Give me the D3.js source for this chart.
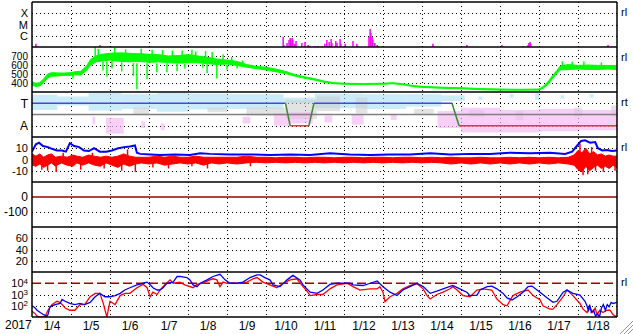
<!DOCTYPE html>
<meta charset="utf-8">
<title>Space weather summary 2017/1</title>
<style>
  body { margin: 0; background: #fff; }
  svg { display: block; font-family: "Liberation Sans", Arial, sans-serif; }
  .frame { fill: none; stroke: #000; stroke-width: 1.5px; }
  .grid { fill: none; stroke: #000; stroke-width: 1px; stroke-dasharray: 1,3; }
  .side { font-size: 11px; fill: #000; }
</style>
<svg width="633" height="334"></svg>
<script src="https://cdn.jsdelivr.net/npm/d3@7"></script>
<script>
  // ---- data (days of January 2017) ----
  var dateLabels = ["1/4","1/5","1/6","1/7","1/8","1/9","1/10","1/11","1/12","1/13","1/14","1/15","1/16","1/17","1/18"];

  // X-ray flux bars [day, W/m2]
  var xrayBars = [[4.10,1.9e-7],[5.10,1.2e-7],[5.74,1.5e-7],[5.77,1.2e-7],[10.44,7.7e-7],[10.46,1.5e-7],
    [10.54,2.3e-7],[10.59,4.2e-7],[10.62,6.3e-7],[10.64,3.4e-7],[10.67,6.3e-7],[10.69,4.2e-7],[10.74,1.9e-7],
    [10.77,3.4e-7],[10.92,2.3e-7],[11.00,2.8e-7],[11.08,1.5e-7],[11.13,1.2e-7],[11.26,1.2e-7],[11.33,1.2e-7],
    [11.44,1.2e-7],[11.51,1.9e-7],[11.56,4.2e-7],[11.62,2.8e-7],[11.67,5.1e-7],[11.69,2.3e-7],[11.79,3.4e-7],
    [11.82,2.3e-7],[11.90,5.1e-7],[11.92,1.9e-7],[12.03,1.9e-7],[12.23,3.4e-7],[12.33,1.9e-7],[12.36,1.2e-7],
    [12.64,7.7e-7],[12.67,4.0e-6],[12.69,1.75e-6],[12.72,7.7e-7],[12.74,4.2e-7],[12.79,2.3e-7],[12.85,1.5e-7],
    [12.87,1.2e-7],[14.28,1.9e-7],[15.15,1.5e-7],[16.05,1.5e-7],[16.59,1.2e-7],[16.72,1.5e-7],[16.74,2.3e-7],
    [16.77,2.8e-7],[16.79,1.9e-7],[18.77,1.5e-7]];

  // solar wind speed envelope [day, low, high] (km/s)
  var windBand = [[4.00,375,415],[4.10,362,395],[4.20,368,405],[4.30,405,445],[4.40,455,500],[4.50,475,515],
    [4.65,478,512],[4.80,485,510],[5.00,485,515],[5.10,492,525],[5.25,488,530],[5.40,540,590],[5.50,600,660],
    [5.65,635,705],[5.80,645,720],[6.00,655,730],[6.25,640,735],[6.50,635,730],[6.75,640,725],[7.00,630,720],
    [7.25,635,715],[7.50,625,700],[7.75,620,705],[8.00,625,715],[8.25,625,700],[8.50,615,685],[8.75,605,665],
    [9.00,610,655],[9.25,595,640],[9.50,575,605],[9.75,560,585],[10.00,545,575],[10.25,525,555],[10.50,505,528],
    [10.75,475,493],[11.00,452,468],[11.25,432,448],[11.50,406,420],[11.75,392,404],[12.00,386,398],
    [12.50,382,394],[13.00,386,398],[13.25,391,403],[13.50,381,393],[13.75,361,373],[14.00,351,363],
    [14.50,341,353],[15.00,336,348],[15.50,326,338],[16.00,321,333],[16.50,319,330],[17.00,321,333],
    [17.10,340,358],[17.25,392,425],[17.35,452,485],[17.45,502,535],[17.55,545,590],[17.75,550,605],
    [18.00,555,595],[18.25,550,600],[18.50,550,595],[18.75,555,595],[19.00,550,595]];
  var windSpikes = [[5.05,450,500],[5.62,650,800],[5.70,700,780],[5.82,540,640],[5.92,470,640],[6.05,560,650],
    [6.12,700,790],[6.30,530,630],[6.40,700,775],[6.60,480,620],[6.69,330,620],[6.80,700,780],[6.95,445,620],
    [7.08,700,770],[7.20,520,620],[7.35,700,765],[7.46,520,620],[7.60,690,760],[7.72,530,610],[7.85,690,760],
    [7.92,560,610],[8.10,700,770],[8.20,690,750],[8.38,570,610],[8.45,680,755],[8.49,510,610],[8.62,670,745],
    [8.74,450,600],[8.90,640,720],[9.00,550,600],[9.12,630,690],[9.26,560,600],[9.40,600,650],[17.60,580,640],
    [17.85,585,635],[18.15,585,640],[18.60,580,630]];

  // T / A panel: speckle blocks [day0, day1, low, high] on a 0..4 scale (T = 3, A = 1)
  var skyCells = [[4.00,4.65,2.4,3.75],[4.65,5.45,2.8,3.6],[5.45,6.30,2.35,3.9],[6.30,7.20,2.5,3.8],
    [7.20,8.00,2.25,3.9],[8.00,9.00,2.45,3.85],[9.00,10.45,2.5,3.8],[10.45,11.25,3.0,3.5],[11.25,12.50,2.55,3.85],
    [12.50,13.60,2.5,3.8],[13.60,14.50,2.7,3.8],[14.50,15.10,3.2,3.7],[15.45,15.55,3.3,3.6],[16.25,16.35,3.5,3.8],
    [16.90,17.00,3.3,3.9],[17.55,17.65,3.4,3.7],[18.30,18.40,3.5,3.8]];
  var grayCells = [[6.6,7.0,2.0,2.6],[8.5,9.0,2.2,2.6],[9.5,10.5,1.9,2.6],[10.5,11.3,1.6,3.3],[11.3,11.9,2.3,3.6],
    [12.3,12.6,2.1,3.5],[13.8,14.3,2.0,2.5],[15.2,15.6,1.8,2.4],[16.4,16.6,1.5,2.3],[17.9,18.1,1.8,2.6],
    [18.85,19.0,1.8,2.8]];
  var pinkCells = [[5.55,5.62,1.1,1.8],[5.90,6.35,0.3,1.7],[6.80,6.90,0.8,1.4],[7.30,7.40,0.6,1.2],
    [9.40,9.60,1.2,1.8],[10.20,10.60,1.0,2.1],[10.60,11.20,1.2,2.2],[11.50,11.70,1.3,1.9],[12.20,12.50,1.1,2.0],
    [13.20,13.35,1.5,2.0],[14.40,15.00,0.8,2.3],[15.00,16.00,0.4,2.6],[16.00,17.00,0.4,2.4],[17.00,18.00,0.5,2.5],
    [18.00,19.00,0.6,2.4]];
  var stateDays = [4.00, 10.50, 10.62, 11.10, 11.23, 14.77, 14.95, 19.00];
  var stateLevels = [3, 3, 1, 1, 3, 3, 1, 1];

  // IMF: total (blue) [day, nT]; Bz envelope (red) [day, low, high]
  var btLine = [[4.00,7],[4.10,13.5],[4.18,15],[4.28,12],[4.41,11],[4.51,9.5],[4.64,8],[4.77,8],[4.87,7],
    [4.97,14.5],[5.08,12],[5.21,11],[5.33,8],[5.46,7.5],[5.59,10],[5.74,7],[5.90,7],[6.05,8],[6.21,10],
    [6.36,11],[6.51,11.5],[6.64,12.5],[6.69,6],[6.77,5],[7.03,4.5],[7.28,4],[7.67,4.5],[8.05,4],[8.31,5.5],
    [8.56,5],[9.08,4.5],[9.59,4.5],[10.10,4],[10.62,4.5],[11.13,4],[11.64,5.5],[12.15,4.5],[12.67,4],
    [13.18,4.5],[13.69,4.5],[14.21,5.5],[14.72,4.5],[15.23,5],[15.74,5],[16.26,6],[16.77,5.5],[17.28,6],
    [17.67,5],[17.85,7],[17.97,12],[18.08,16.5],[18.18,17],[18.31,15],[18.44,15.5],[18.51,10],[18.62,8],
    [18.74,8.5],[18.87,7.5],[19.00,8]];
  var bzBand = [[4.00,-5,5],[4.10,-6,3],[4.20,-4,5],[4.30,-7,2],[4.40,-5,4],[4.50,-3,5],[4.60,-6,2],[4.75,-3,3],
    [4.90,-5,2],[5.05,-6,4],[5.15,-3,3],[5.30,-5,2],[5.45,-3,4],[5.60,-5,3],[5.75,-6,2],[5.90,-3,3],[6.05,-5,2],
    [6.20,-7,3],[6.35,-4,5],[6.50,-6,3],[6.65,-4,2],[6.80,-3,2],[7.00,-4,2],[7.20,-3,3],[7.40,-5,2],[7.60,-4,3],
    [7.80,-3,2],[8.00,-4,2],[8.20,-3,3],[8.40,-5,2],[8.60,-3,2],[8.80,-4,2],[9.00,-3,2],[9.25,-4,2],[9.50,-3,3],
    [9.75,-2.5,2],[10.00,-3,2],[10.25,-2.5,1.5],[10.50,-3,2],[10.75,-2.5,2],[11.00,-3,1.5],[11.25,-2.5,2],
    [11.50,-3,2],[11.75,-2.5,1.5],[12.00,-3,2],[12.25,-2.5,2],[12.50,-3,1.5],[12.75,-2.5,2],[13.00,-3,2],
    [13.25,-2.5,1.5],[13.50,-3,2],[13.75,-2.5,2],[14.00,-3,1.5],[14.25,-2.5,2],[14.50,-3,1.5],[14.75,-4,2],
    [15.00,-3,1.5],[15.25,-4,1.5],[15.50,-3,2],[15.75,-4,1.5],[16.00,-3,1.5],[16.25,-4,2],[16.50,-3,1.5],
    [16.75,-4,2],[17.00,-3,1.5],[17.25,-4,2],[17.50,-3,1.5],[17.75,-4,2],[17.90,-5,4],[18.00,-9,8],
    [18.10,-11,6],[18.20,-6,10],[18.30,-10,5],[18.40,-7,7],[18.50,-5,4],[18.60,-8,5],[18.70,-6,3],[18.80,-8,4],
    [18.90,-5,3],[19.00,-7,3]];
  var bzSpikes = [[4.25,-9,0],[4.40,-10,0],[4.62,-11,0],[4.80,0,6],[5.25,-9,0],[5.55,0,6],[5.85,-8,0],
    [6.30,-10,0],[6.45,0,9],[6.65,-11,0],[7.10,-7,0],[7.50,-8,0],[8.10,-6,0],[8.50,-8,0],[9.60,-6,0],
    [18.05,0,14],[18.13,-14,0],[18.25,-13,0],[18.35,0,11],[18.45,-10,0],[18.65,-11,0],[18.95,-10,0]];

  // electron flux (blue) and proton-ish flux (red), log scale
  var fluxBlue = [[4.00,100],[4.08,63],[4.13,40],[4.21,25],[4.30,16],[4.38,12],[4.41,16],[4.46,80],[4.59,126],
    [4.72,160],[4.77,370],[4.85,250],[4.97,160],[5.10,126],[5.23,160],[5.35,126],[5.49,200],[5.62,630],
    [5.74,1260],[5.87,630],[6.00,630],[6.13,800],[6.26,1260],[6.38,2500],[6.51,4000],[6.69,7100],[6.85,10000],
    [6.95,12600],[7.05,6300],[7.10,4000],[7.21,2500],[7.28,2500],[7.36,4000],[7.46,10000],[7.62,12600],
    [7.72,40000],[7.79,40000],[7.97,32000],[8.05,20000],[8.13,7100],[8.23,5000],[8.31,10000],[8.49,20000],
    [8.64,40000],[8.82,63000],[8.95,20000],[9.08,10000],[9.26,10000],[9.41,12600],[9.59,32000],[9.77,56000],
    [9.85,56000],[9.97,32000],[10.10,20000],[10.18,7100],[10.36,5000],[10.54,20000],[10.69,50000],
    [10.87,20000],[10.95,7100],[11.13,1600],[11.31,1260],[11.46,2500],[11.64,7900],[11.82,10000],
    [12.15,10000],[12.23,7100],[12.49,6300],[12.67,10000],[12.85,16000],[13.00,5000],[13.18,1600],
    [13.36,800],[13.51,2500],[13.69,5000],[13.87,10000],[14.03,5000],[14.21,1260],[14.38,2000],[14.54,3200],
    [14.79,6300],[14.97,3200],[15.15,1600],[15.23,800],[15.41,890],[15.49,2500],[15.67,5000],[15.79,5600],
    [15.92,3200],[16.08,1260],[16.18,500],[16.31,320],[16.44,630],[16.59,1600],[16.72,5000],[16.82,5600],
    [16.95,2500],[17.10,1000],[17.21,500],[17.36,200],[17.46,250],[17.62,1600],[17.72,2500],[17.87,1260],
    [18.05,890],[18.18,250],[18.23,100],[18.26,40],[18.30,126],[18.34,25],[18.40,40],[18.45,12],[18.50,20],
    [18.55,10],[18.60,63],[18.65,126],[18.70,40],[18.75,126],[18.80,80],[18.85,200],[18.90,160],[19.00,200]];
  var fluxRed = [[4.00,32],[4.08,20],[4.13,12],[4.21,10],[4.33,10],[4.41,40],[4.51,126],[4.64,250],[4.72,200],
    [4.85,63],[4.97,40],[5.10,40],[5.23,126],[5.35,126],[5.49,630],[5.62,1260],[5.74,1260],[5.82,200],
    [5.92,10],[6.00,250],[6.13,126],[6.26,800],[6.38,1260],[6.51,1260],[6.69,4000],[6.85,7900],[6.95,4000],
    [7.03,630],[7.10,1600],[7.21,1000],[7.28,2500],[7.36,5000],[7.54,20000],[7.62,10000],[7.79,12600],
    [7.92,7100],[8.13,4000],[8.23,7900],[8.38,10000],[8.56,20000],[8.64,25000],[8.74,20000],[8.82,5000],
    [8.90,12600],[9.00,10000],[9.26,10000],[9.51,12600],[9.67,25000],[9.77,32000],[9.92,12600],[10.10,7100],
    [10.28,4000],[10.44,10000],[10.62,20000],[10.79,25000],[10.95,5000],[11.05,2000],[11.13,800],[11.31,1000],
    [11.46,1000],[11.64,3200],[11.82,7100],[12.08,10000],[12.23,5000],[12.41,2500],[12.67,3200],[12.85,3200],
    [12.92,5000],[13.00,1600],[13.05,230],[13.18,630],[13.36,1260],[13.51,3200],[13.69,6300],[13.87,8900],
    [14.03,3200],[14.13,800],[14.21,400],[14.38,1000],[14.54,1600],[14.72,3200],[14.79,5000],[14.90,2500],
    [15.05,800],[15.23,630],[15.41,2500],[15.56,3200],[15.79,2500],[15.92,400],[16.08,126],[16.18,100],
    [16.33,800],[16.51,1600],[16.72,2500],[16.85,800],[17.03,320],[17.10,100],[17.28,50],[17.36,50],
    [17.46,126],[17.62,630],[17.72,2500],[17.87,800],[18.05,160],[18.13,50],[18.23,25],[18.31,63],[18.38,25],
    [18.44,63],[18.49,16],[18.56,40],[18.64,25],[18.74,40],[18.82,40],[18.90,16],[19.00,10]];

  // ---- layout ----
  var svg = d3.select("svg"),
    left = 32, right = 617, top0 = 2, panelH = 45;

  function day(d) { return new Date(Date.UTC(2017, 0, 1) + (d - 1) * 864e5); }
  function pTop(i) { return top0 + i * panelH; }

  var x = d3.scaleUtc().domain([day(4), day(19)]).range([left, right]);

  var yX = d3.scaleLog().domain([1e-7, 1e-3]).range([pTop(1), pTop(0)]);
  var yV = d3.scaleLinear().domain([300, 800]).range([pTop(2), pTop(1)]);
  var yS = d3.scaleLinear().domain([0, 4]).range([pTop(3), pTop(2)]);
  var yB = d3.scaleLinear().domain([-20, 20]).range([pTop(4), pTop(3)]);
  var yD = d3.scaleLinear().domain([-200, 100]).range([pTop(5), pTop(4)]);
  var yK = d3.scaleLinear().domain([0, 80]).range([pTop(6), pTop(5)]);
  var yF = d3.scaleLog().domain([10, 1e5]).range([pTop(7), pTop(6)]);

  var defs = svg.append("defs");
  d3.range(7).forEach(function(i) {
    defs.append("clipPath").attr("id", "clip" + i)
      .append("rect").attr("x", left).attr("y", pTop(i)).attr("width", right - left).attr("height", panelH);
  });

  // grid
  var grid = svg.append("g");
  var days = x.ticks(d3.utcDay.every(1)).filter(function(d) { return +d > +day(4) && +d < +day(19); });
  grid.selectAll(".v").data(days).enter().append("line").attr("class", "grid")
    .attr("x1", function(d) { return Math.round(x(d)) + 0.5; }).attr("x2", function(d) { return Math.round(x(d)) + 0.5; })
    .attr("y1", pTop(0)).attr("y2", pTop(7));

  var hLines = [
    [yX, [1e-4, 1e-5, 1e-6]], [yV, [700, 600, 500, 400]], [yS, [3, 1]], [yB, [10, 0, -10]],
    [yD, [-100]], [yK, [60, 40, 20]], [yF, [1e3, 1e2]]
  ];
  hLines.forEach(function(h) {
    grid.selectAll(null).data(h[1]).enter().append("line").attr("class", "grid")
      .attr("x1", left).attr("x2", right)
      .attr("y1", function(d) { return Math.round(h[0](d)) + 0.5; })
      .attr("y2", function(d) { return Math.round(h[0](d)) + 0.5; });
  });

  // panel 1: x-ray bars
  svg.append("g").attr("clip-path", "url(#clip0)")
    .selectAll("line").data(xrayBars).enter().append("line")
    .attr("x1", function(d) { return x(day(d[0])); }).attr("x2", function(d) { return x(day(d[0])); })
    .attr("y1", yX(1e-7)).attr("y2", function(d) { return yX(d[1]); })
    .attr("stroke", "#ff00ff").attr("stroke-width", 1.5);

  // panel 2: solar wind
  var g2 = svg.append("g").attr("clip-path", "url(#clip1)");
  g2.append("path").datum(windBand)
    .attr("d", d3.area().x(function(d) { return x(day(d[0])); })
      .y0(function(d) { return yV(d[1]); }).y1(function(d) { return yV(d[2]); }))
    .attr("fill", "#00ff00").attr("stroke", "#00ff00").attr("stroke-width", 1);
  g2.selectAll("line").data(windSpikes).enter().append("line")
    .attr("x1", function(d) { return x(day(d[0])); }).attr("x2", function(d) { return x(day(d[0])); })
    .attr("y1", function(d) { return yV(d[1]); }).attr("y2", function(d) { return yV(d[2]); })
    .attr("stroke", "#00ff00").attr("stroke-width", 1.5);

  // panel 3: T / A
  var g3 = svg.append("g").attr("clip-path", "url(#clip2)");
  function cells(data, color, op) {
    g3.append("g").selectAll("rect").data(data).enter().append("rect")
      .attr("x", function(d) { return x(day(d[0])); })
      .attr("width", function(d) { return x(day(d[1])) - x(day(d[0])); })
      .attr("y", function(d) { return yS(d[3]); })
      .attr("height", function(d) { return yS(d[2]) - yS(d[3]); })
      .attr("fill", color).attr("fill-opacity", op);
  }
  cells(skyCells, "#9edcf4", 0.55);
  cells(grayCells, "#c8c8c8", 0.5);
  cells(pinkCells, "#f2b6f2", 0.65);
  g3.append("line").attr("x1", left).attr("x2", right).attr("y1", yS(2)).attr("y2", yS(2))
    .attr("stroke", "#808080").attr("stroke-width", 1.5);
  d3.range(stateDays.length - 1).forEach(function(i) {
    var a = stateLevels[i], b = stateLevels[i + 1];
    g3.append("line")
      .attr("x1", x(day(stateDays[i]))).attr("x2", x(day(stateDays[i + 1])))
      .attr("y1", yS(a)).attr("y2", yS(b))
      .attr("stroke", a !== b ? "#3a8a3a" : (a === 3 ? "#4646e6" : "#e03a3a"))
      .attr("stroke-width", 1.5);
  });

  // panel 4: IMF
  var g4 = svg.append("g").attr("clip-path", "url(#clip3)");
  g4.append("path").datum(bzBand)
    .attr("d", d3.area().x(function(d) { return x(day(d[0])); })
      .y0(function(d) { return yB(d[1]); }).y1(function(d) { return yB(d[2]); }))
    .attr("fill", "#ff0000").attr("stroke", "#ff0000").attr("stroke-width", 1);
  g4.selectAll("line").data(bzSpikes).enter().append("line")
    .attr("x1", function(d) { return x(day(d[0])); }).attr("x2", function(d) { return x(day(d[0])); })
    .attr("y1", function(d) { return yB(d[1]); }).attr("y2", function(d) { return yB(d[2]); })
    .attr("stroke", "#ff0000").attr("stroke-width", 1.5);
  g4.append("path").datum(btLine)
    .attr("d", d3.line().x(function(d) { return x(day(d[0])); }).y(function(d) { return yB(d[1]); }))
    .attr("fill", "none").attr("stroke", "#0000ff").attr("stroke-width", 2);

  // panel 5: reference line at 0
  svg.append("line").attr("x1", left).attr("x2", right).attr("y1", yD(0)).attr("y2", yD(0))
    .attr("stroke", "#a00000").attr("stroke-width", 1.5);

  // panel 7: fluxes
  var g7 = svg.append("g").attr("clip-path", "url(#clip6)");
  g7.append("line").attr("x1", left).attr("x2", right).attr("y1", yF(1e4)).attr("y2", yF(1e4))
    .attr("stroke", "#a00000").attr("stroke-width", 1.5).attr("stroke-dasharray", "9,4");
  var fLine = d3.line().x(function(d) { return x(day(d[0])); }).y(function(d) { return yF(d[1]); });
  g7.append("path").datum(fluxRed).attr("d", fLine)
    .attr("fill", "none").attr("stroke", "#ff0000").attr("stroke-width", 1.3);
  g7.append("path").datum(fluxBlue).attr("d", fLine)
    .attr("fill", "none").attr("stroke", "#0000ff").attr("stroke-width", 1.3);

  // frames
  var frame = svg.append("g").attr("class", "frame");
  d3.range(8).forEach(function(i) {
    frame.append("line").attr("x1", left).attr("x2", right).attr("y1", pTop(i)).attr("y2", pTop(i));
  });
  frame.append("line").attr("x1", left).attr("x2", left).attr("y1", pTop(0)).attr("y2", pTop(7));
  frame.append("line").attr("x1", right).attr("x2", right).attr("y1", pTop(0)).attr("y2", pTop(7));

  // left axes
  function leftAxis(scale, vals, fmt, size) {
    var g = svg.append("g").attr("transform", "translate(" + left + ",0)")
      .call(d3.axisLeft(scale).tickValues(vals).tickSize(0).tickPadding(4).tickFormat(fmt));
    g.select(".domain").remove();
    g.attr("font-size", size || 12).attr("font-family", null);
    return g;
  }
  function signed(d) { return d < 0 ? "-" + Math.abs(d) : String(d); }
  leftAxis(yX, [1e-4, 1e-5, 1e-6], function(d) { return d === 1e-4 ? "X" : d === 1e-5 ? "M" : "C"; }, 11);
  leftAxis(yV, [700, 600, 500, 400], d3.format("d"), 10);
  leftAxis(yS, [3, 1], function(d) { return d === 3 ? "T" : "A"; });
  leftAxis(yB, [10, 0, -10], signed, 11);
  leftAxis(yD, [0, -100], signed);
  leftAxis(yK, [60, 40, 20], d3.format("d"), 11);
  var lg = leftAxis(yF, [1e4, 1e3, 1e2], function() { return ""; }, 11);
  lg.selectAll("text").each(function(d) {
    var t = d3.select(this);
    t.append("tspan").text("10");
    t.append("tspan").attr("dy", "-0.45em").attr("font-size", 8).text(Math.round(Math.log10(d)));
  });

  // date axis
  var noon = dateLabels.map(function(s, i) { return day(4 + i + 0.5); });
  var xa = svg.append("g").attr("transform", "translate(0," + pTop(7) + ")")
    .call(d3.axisBottom(x).tickValues(noon).tickSize(0).tickPadding(4)
      .tickFormat(function(d, i) { return dateLabels[i]; }));
  xa.select(".domain").remove();
  xa.attr("font-size", 12).attr("font-family", null);
  svg.append("text").attr("x", 5).attr("y", 329).attr("font-size", 12).text("2017");

  // right side tags
  var tags = [[0, "rl"], [1, "rl"], [2, "rt"], [3, "rl"], [6, "rl"]];
  svg.selectAll(".side").data(tags).enter().append("text").attr("class", "side")
    .attr("x", right + 4).attr("y", function(d) { return pTop(d[0]) + 14; })
    .text(function(d) { return d[1]; });

  // resize grip
  [0, 4, 8].forEach(function(o) {
    svg.append("line").attr("x1", 620 + o).attr("y1", 334).attr("x2", 633).attr("y2", 321 + o)
      .attr("stroke", "#9a9a9a").attr("stroke-width", 1);
    svg.append("line").attr("x1", 621 + o).attr("y1", 334).attr("x2", 633).attr("y2", 322 + o)
      .attr("stroke", "#fff").attr("stroke-width", 1);
  });
</script>
